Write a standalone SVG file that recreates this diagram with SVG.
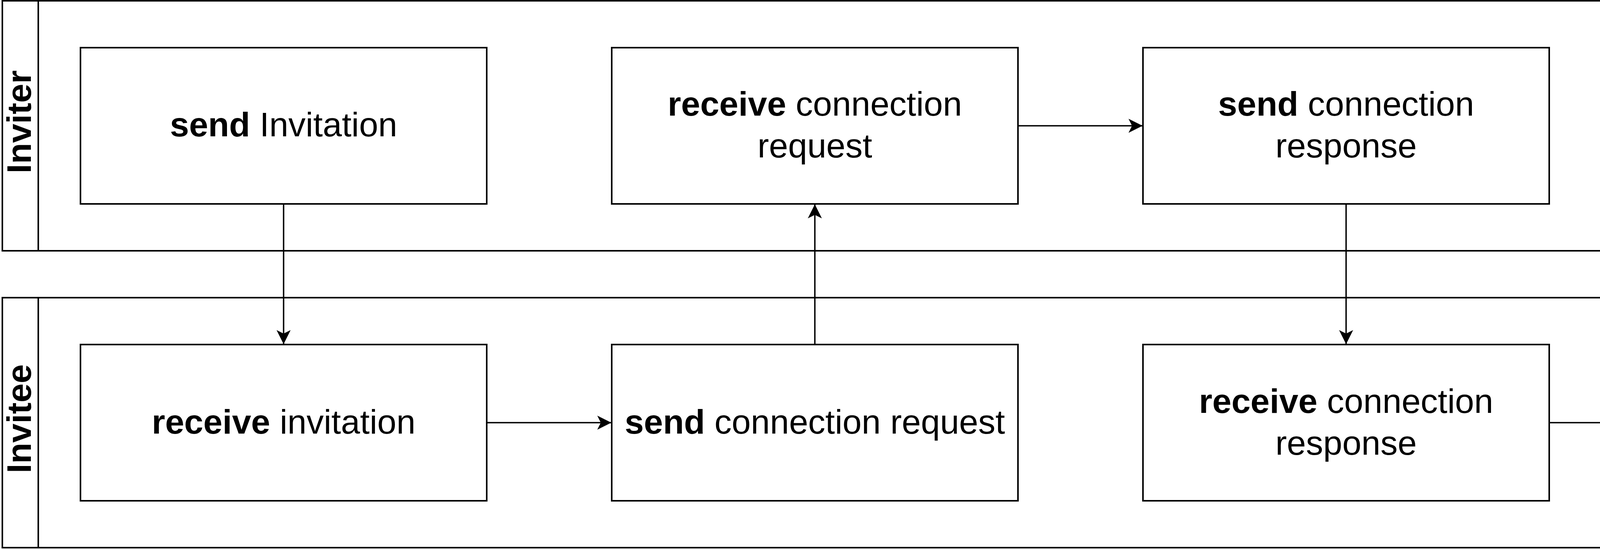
<svg xmlns="http://www.w3.org/2000/svg" width="5572" height="1408" viewBox="0 0 5572 1408">
  <defs>
    <style>
      .pool { fill: none; stroke: #000; stroke-width: 4; }
      .box { fill: #fff; stroke: #000; stroke-width: 4; }
      .lbl { font-family: "Liberation Sans", Arial, sans-serif; font-size: 88px; fill: #000; text-anchor: middle; }
      .lane { font-family: "Liberation Sans", Arial, sans-serif; font-size: 88px; font-weight: bold; fill: #000; text-anchor: middle; }
      .b { font-weight: bold; }
      .edge { fill: none; stroke: #000; stroke-width: 3.6; marker-end: url(#arrow); }
    </style>
    <marker id="arrow" markerUnits="userSpaceOnUse" viewBox="-40 -20 44 40" refX="0" refY="0" markerWidth="44" markerHeight="40" orient="auto" overflow="visible">
      <path d="M0,0 L-36,-18 L-27,0 L-36,18 Z" fill="#000"/>
    </marker>
  </defs>
  <rect x="0" y="0" width="5572" height="1408" fill="#fff"/>

  <g id="pool-inviter">
    <rect class="pool" x="6" y="2" width="5560" height="640"/>
    <line class="pool" x1="98" y1="2" x2="98" y2="642"/>
    <text class="lane" transform="translate(79,312) rotate(-90)">Inviter</text>
  </g>
  <g id="pool-invitee">
    <rect class="pool" x="6" y="762" width="5560" height="640"/>
    <line class="pool" x1="98" y1="762" x2="98" y2="1402"/>
    <text class="lane" transform="translate(79,1072) rotate(-90)">Invitee</text>
  </g>

  <g id="send-invitation">
    <rect class="box" x="206" y="122" width="1040" height="400"/>
    <text class="lbl" x="726" y="349"><tspan class="b">send</tspan> Invitation</text>
  </g>
  <g id="receive-connection-request">
    <rect class="box" x="1566" y="122" width="1040" height="400"/>
    <text class="lbl" x="2086" y="296"><tspan class="b">receive</tspan> connection</text>
    <text class="lbl" x="2086" y="403">request</text>
  </g>
  <g id="send-connection-response">
    <rect class="box" x="2926" y="122" width="1040" height="400"/>
    <text class="lbl" x="3446" y="296"><tspan class="b">send</tspan> connection</text>
    <text class="lbl" x="3446" y="403">response</text>
  </g>
  <g id="receive-ack">
    <rect class="box" x="4286" y="122" width="1040" height="400"/>
    <text class="lbl" x="4806" y="349"><tspan class="b">receive</tspan> ack</text>
  </g>

  <g id="receive-invitation">
    <rect class="box" x="206" y="882" width="1040" height="400"/>
    <text class="lbl" x="726" y="1110"><tspan class="b">receive</tspan> invitation</text>
  </g>
  <g id="send-connection-request">
    <rect class="box" x="1566" y="882" width="1040" height="400"/>
    <text class="lbl" x="2086" y="1110"><tspan class="b">send</tspan> connection request</text>
  </g>
  <g id="receive-connection-response">
    <rect class="box" x="2926" y="882" width="1040" height="400"/>
    <text class="lbl" x="3446" y="1057"><tspan class="b">receive</tspan> connection</text>
    <text class="lbl" x="3446" y="1164">response</text>
  </g>
  <g id="send-ack">
    <rect class="box" x="4286" y="882" width="1040" height="400"/>
    <text class="lbl" x="4806" y="1110"><tspan class="b">send</tspan> ack</text>
  </g>

  <g id="connectors">
    <path class="edge" d="M726,522 L726,881"/>
    <path class="edge" d="M1246,1082 L1565,1082"/>
    <path class="edge" d="M2086,882 L2086,523"/>
    <path class="edge" d="M2606,322 L2925,322"/>
    <path class="edge" d="M3446,522 L3446,881"/>
    <path class="edge" d="M3966,1082 L4285,1082"/>
    <path class="edge" d="M4806,882 L4806,523"/>
  </g>
</svg>
